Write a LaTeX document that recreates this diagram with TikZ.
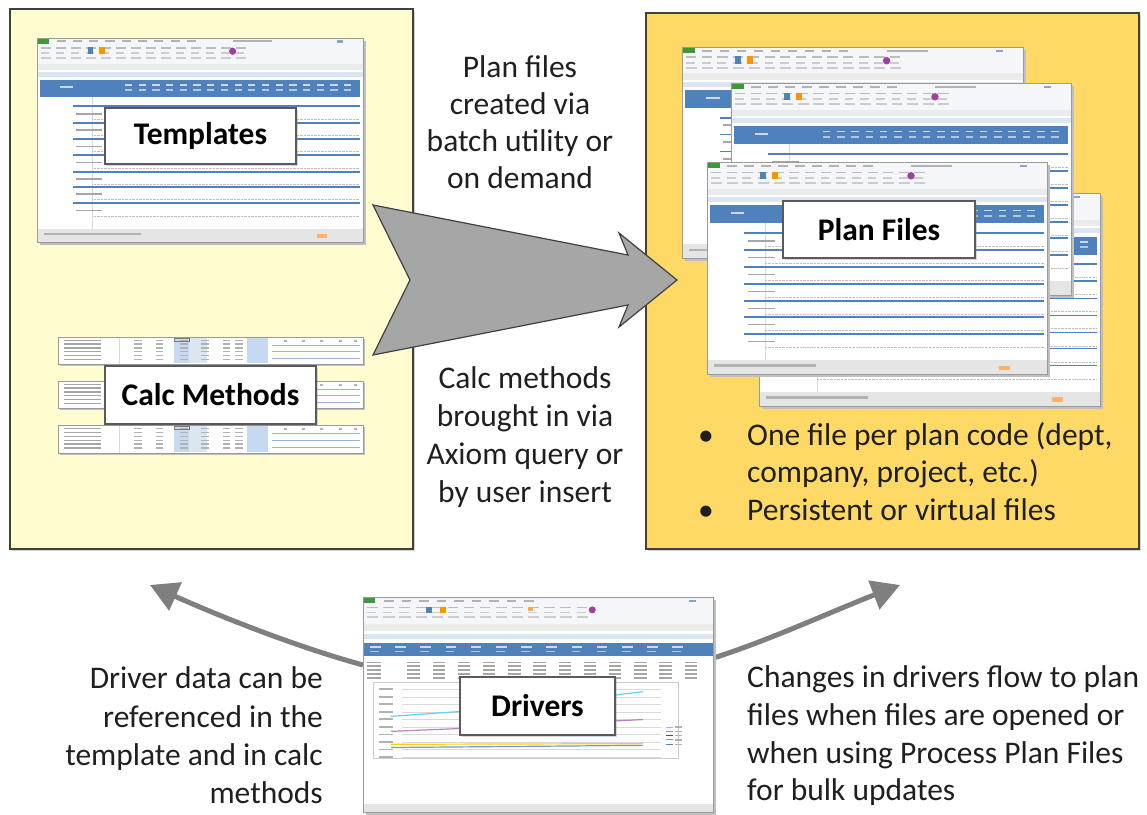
\documentclass[tikz,border=0pt]{standalone}
\usepackage{fontspec}
\setmainfont{Carlito}
\usetikzlibrary{arrows.meta,calc,shadows}

\definecolor{lefty}{HTML}{FFFDD0}
\definecolor{righty}{HTML}{FFD966}
\definecolor{boxline}{HTML}{404040}
\definecolor{lblline}{HTML}{5A5A5A}
\definecolor{arrowgray}{HTML}{A6A6A6}
\definecolor{curvegray}{HTML}{7F7F7F}
\definecolor{hdrblue}{HTML}{4F81BD}
\definecolor{paleblue}{HTML}{DCE6F1}
\definecolor{cellblue}{HTML}{C5D9F1}
\definecolor{ribbonbg}{HTML}{F4F6FA}
\definecolor{sheetedge}{HTML}{9A9A9A}
\definecolor{filegreen}{HTML}{3A9A3A}
\definecolor{txt}{HTML}{1F1F1F}

\tikzset{
 panel/.style={draw=boxline, line width=1.6pt, inner sep=0pt, drop shadow={shadow xshift=2pt, shadow yshift=-2pt, opacity=0.35}},
 lbl/.style={draw=lblline, fill=white, line width=1.6pt, font=\fontsize{31.5}{37}\selectfont\bfseries, inner sep=0pt, text=black, drop shadow={shadow xshift=1.5pt, shadow yshift=-1.5pt, opacity=0.3}},
 note/.style={font=\fontsize{31.5}{37.5}\selectfont, text=txt, inner sep=0pt},
 curvearrow/.style={draw=curvegray, line width=5pt, -{Triangle[length=28pt,width=30pt]}},
 bigarrow/.style={fill=arrowgray, draw=boxline, line width=1.2pt, line join=miter},
 pics/sheet/.style n args={2}{code={
  \fill[black!25] (2.5,2.5) rectangle (#1+2.5,#2+2.5);
  \fill[white] (0,0) rectangle (#1,#2);
  \fill[ribbonbg] (0,0) rectangle (#1,0.155*#2);
  \fill[filegreen] (0.004*#1,0.006*#2) rectangle (0.038*#1,0.03*#2);
  \foreach \i in {0,...,8}
    \fill[black!30] ({(0.06+0.05*\i)*#1},0.012*#2) rectangle ++(0.028*#1,0.01*#2);
  \fill[black!30] (0.6*#1,0.012*#2) rectangle ++(0.12*#1,0.01*#2);
  \fill[hdrblue!70] (0.92*#1,0.012*#2) rectangle ++(0.02*#1,0.012*#2);
  \foreach \i in {0,...,13}{
    \fill[black!26] ({(0.012+0.046*\i)*#1},0.045*#2) rectangle ++(0.03*#1,0.009*#2);
    \fill[black!20] ({(0.012+0.046*\i)*#1},0.07*#2) rectangle ++(0.026*#1,0.009*#2);
    \fill[black!20] ({(0.012+0.046*\i)*#1},0.095*#2) rectangle ++(0.032*#1,0.009*#2);
  }
  \fill[orange!85!yellow] (0.19*#1,0.045*#2) rectangle ++(0.018*#1,0.035*#2);
  \fill[hdrblue] (0.155*#1,0.045*#2) rectangle ++(0.018*#1,0.035*#2);
  \fill[violet!75] (0.6*#1,0.065*#2) circle (0.011*#1);
  \fill[black!8] (0,0.125*#2) rectangle (#1,0.155*#2);
  \fill[paleblue] (0,0.165*#2) rectangle (#1,0.19*#2);
  \fill[hdrblue] (0.01*#1,0.205*#2) rectangle (0.99*#1,0.29*#2);
  \foreach \i in {0,...,16}{
     \fill[white!70!hdrblue] ({(0.27+0.042*\i)*#1},0.225*#2) rectangle ++(0.022*#1,0.008*#2);
     \fill[white!55!hdrblue] ({(0.27+0.042*\i)*#1},0.25*#2) rectangle ++(0.022*#1,0.008*#2);
  }
  \fill[white!70!hdrblue] (0.07*#1,0.235*#2) rectangle ++(0.04*#1,0.01*#2);
  \draw[black!15] (0.17*#1,0.29*#2) -- (0.17*#1,0.935*#2);
  \foreach \r in {0.335,0.415,0.495,0.575,0.655,0.73,0.81}{
    \draw[hdrblue, line width=1.8pt] (0.11*#1,\r*#2) -- (0.99*#1,\r*#2);
    \fill[black!35] (0.12*#1,{(\r+0.032)*#2}) rectangle ++(0.08*#1,0.008*#2);
    \draw[black!25, densely dotted] (0.17*#1,{(\r+0.062)*#2}) -- (0.99*#1,{(\r+0.062)*#2});
  }
  \fill[black!10] (0,0.935*#2) rectangle (#1,#2);
  \fill[black!30] (0.02*#1,0.955*#2) rectangle ++(0.3*#1,0.012*#2);
  \fill[orange!60] (0.86*#1,0.96*#2) rectangle ++(0.03*#1,0.02*#2);
  \draw[sheetedge, line width=1pt] (0,0) rectangle (#1,#2);
 }},
 pics/strip/.style n args={2}{code={
  \fill[black!25] (2,2) rectangle (#1+2,#2+2);
  \fill[white] (0,0) rectangle (#1,#2);
  \fill[cellblue] (0.38*#1,0.05*#2) rectangle (0.43*#1,0.95*#2);
  \fill[paleblue] (0.43*#1,0.05*#2) rectangle (0.49*#1,0.95*#2);
  \fill[cellblue] (0.62*#1,0.05*#2) rectangle (0.69*#1,0.95*#2);
  \draw[boxline!70, line width=0.8pt] (0.38*#1,0.04*#2) rectangle (0.43*#1,0.16*#2);
  \foreach \k in {0,...,5}{
    \fill[black!35] (0.02*#1,{(0.1+0.14*\k)*#2}) rectangle ++(0.12*#1,0.05*#2);
    \foreach \cc in {0.25,0.32,0.40,0.47,0.54,0.58}
      \fill[black!30] (\cc*#1,{(0.1+0.14*\k)*#2}) rectangle ++(0.025*#1,0.05*#2);
  }
  \foreach \r in {0.3,0.55,0.8}
    \draw[hdrblue!60, line width=1.2pt] (0.7*#1,\r*#2) -- (0.99*#1,\r*#2);
  \foreach \cc in {0.74,0.8,0.86,0.92,0.97}
    \fill[black!30] (\cc*#1,0.12*#2) rectangle ++(0.01*#1,0.06*#2);
  \draw[black!15] (0.2*#1,0) -- (0.2*#1,#2);
  \draw[sheetedge, line width=1pt] (0,0) rectangle (#1,#2);
 }},
 pics/drvsheet/.style n args={2}{code={
  \fill[black!25] (2.5,2.5) rectangle (#1+2.5,#2+2.5);
  \fill[white] (0,0) rectangle (#1,#2);
  \fill[ribbonbg] (0,0) rectangle (#1,0.16*#2);
  \fill[filegreen] (0.004*#1,0.006*#2) rectangle (0.035*#1,0.028*#2);
  \foreach \i in {0,...,8}
    \fill[black!30] ({(0.06+0.05*\i)*#1},0.012*#2) rectangle ++(0.028*#1,0.009*#2);
  \fill[hdrblue!70] (0.93*#1,0.012*#2) rectangle ++(0.02*#1,0.012*#2);
  \foreach \i in {0,...,13}{
    \fill[black!26] ({(0.012+0.046*\i)*#1},0.045*#2) rectangle ++(0.03*#1,0.008*#2);
    \fill[black!20] ({(0.012+0.046*\i)*#1},0.068*#2) rectangle ++(0.026*#1,0.008*#2);
    \fill[black!20] ({(0.012+0.046*\i)*#1},0.09*#2) rectangle ++(0.032*#1,0.008*#2);
  }
  \fill[orange!85!yellow] (0.22*#1,0.045*#2) rectangle ++(0.018*#1,0.03*#2);
  \fill[hdrblue] (0.18*#1,0.045*#2) rectangle ++(0.018*#1,0.03*#2);
  \fill[orange!70] (0.47*#1,0.045*#2) rectangle ++(0.015*#1,0.02*#2);
  \fill[violet!75] (0.655*#1,0.06*#2) circle (0.01*#1);
  \fill[black!8] (0,0.125*#2) rectangle (#1,0.16*#2);
  \fill[paleblue] (0,0.17*#2) rectangle (#1,0.195*#2);
  \fill[hdrblue] (0,0.215*#2) rectangle (#1,0.275*#2);
  \foreach \i in {0,...,12}{
     \fill[white!70!hdrblue] ({(0.02+0.072*\i)*#1},0.228*#2) rectangle ++(0.03*#1,0.008*#2);
     \fill[white!55!hdrblue] ({(0.02+0.072*\i)*#1},0.25*#2) rectangle ++(0.025*#1,0.008*#2);
  }
  \foreach \k in {0,...,4}{
    \fill[black!35] (0.01*#1,{(0.3+0.018*\k)*#2}) rectangle ++(0.04*#1,0.008*#2);
    \foreach \i in {1,...,12}
      \fill[black!35] ({(0.055+0.072*\i)*#1},{(0.3+0.018*\k)*#2}) rectangle ++(0.035*#1,0.008*#2);
  }
  \draw[black!20] (0.03*#1,0.395*#2) rectangle (0.9*#1,0.75*#2);
  \foreach \k in {0,...,9}{
    \draw[black!15] (0.11*#1,{(0.43+0.035*\k)*#2}) -- (0.85*#1,{(0.43+0.035*\k)*#2});
    \fill[black!30] (0.045*#1,{(0.425+0.035*\k)*#2}) rectangle ++(0.04*#1,0.008*#2);
  }
  \draw[cyan!60, line width=1.2pt] (0.08*#1,0.555*#2) -- (0.3*#1,0.53*#2) -- (0.55*#1,0.49*#2) -- (0.8*#1,0.44*#2);
  \draw[violet!50, line width=1.2pt] (0.08*#1,0.625*#2) -- (0.3*#1,0.61*#2) -- (0.55*#1,0.59*#2) -- (0.8*#1,0.57*#2);
  \draw[yellow!70!orange, line width=1.2pt] (0.08*#1,0.685*#2) -- (0.8*#1,0.682*#2);
  \draw[hdrblue!80, line width=1.2pt] (0.08*#1,0.70*#2) -- (0.8*#1,0.69*#2);
  \foreach \k/\col in {0/cyan!60,1/violet!50,2/green!50!black,3/red!60,4/hdrblue}{
    \draw[\col, line width=1pt] (0.865*#1,{(0.605+0.02*\k)*#2}) -- ++(0.02*#1,0);
    \fill[black!30] (0.89*#1,{(0.602+0.02*\k)*#2}) rectangle ++(0.02*#1,0.006*#2);
  }
  \fill[black!10] (0,0.965*#2) rectangle (#1,#2);
  \draw[sheetedge, line width=1pt] (0,0) rectangle (#1,#2);
 }},
}

\begin{document}
\begin{tikzpicture}[x=1pt,y=-1pt]
\useasboundingbox (0,0) rectangle (1147,814);

% panels
\node[panel, fill=lefty, minimum width=403pt, minimum height=540pt, anchor=north west] (tplpanel) at (9,8) {};
\node[panel, fill=righty, minimum width=493pt, minimum height=536pt, anchor=north west] (planpanel) at (645,12) {};

% templates side
\pic at (37,38) {sheet={326}{204}};
\pic at (58,337) {strip={305}{27}};
\pic at (58,381) {strip={305}{27}};
\pic at (58,425) {strip={305}{28}};
\node[lbl, minimum width=191pt, minimum height=56pt] (tpl) at (200.5,136) {Templates};
\node[lbl, minimum width=211pt, minimum height=58pt] (calc) at (210.5,395) {Calc Methods};

% plan files side
\pic at (759,193) {sheet={341}{213}};
\pic at (682,47) {sheet={341}{211}};
\pic at (731,83) {sheet={340}{212}};
\pic at (707,162) {sheet={340}{212}};
\node[lbl, minimum width=192pt, minimum height=57pt] (plan) at (879,229.5) {Plan Files};

% big arrow
\path[bigarrow] (373,205) -- (628,255) -- (619,233) -- (677,280) -- (619,327) -- (628,305) -- (373,355) -- (410,280) -- cycle;

% middle notes
\node[note, anchor=base] (t1) at (520,77) {Plan files};
\node[note, anchor=base] (t2) at (520,114) {created via};
\node[note, anchor=base] (t3) at (520,151) {batch utility or};
\node[note, anchor=base] (t4) at (520,188) {on demand};
\node[note, anchor=base] (m1) at (525,388) {Calc methods};
\node[note, anchor=base] (m2) at (525,426) {brought in via};
\node[note, anchor=base] (m3) at (525,464) {Axiom query or};
\node[note, anchor=base] (m4) at (525,502) {by user insert};

% bullets
\node[note, anchor=base] (b1) at (706,445) {•};
\node[note, anchor=base west] (bt1) at (747,445) {One file per plan code (dept,};
\node[note, anchor=base west] (bt1b) at (747,482) {company, project, etc.)};
\node[note, anchor=base] (b2) at (706,520) {•};
\node[note, anchor=base west] (bt2) at (747,520) {Persistent or virtual files};

% drivers
\node[minimum width=350pt, minimum height=215pt, anchor=north west, inner sep=0pt] (drv) at (363,597) {};
\coordinate (tplin) at (150,585);
\coordinate (planin) at (900,585);
\draw[curvearrow] ($(drv.north west)+(0,68)$) .. controls (290,645) and (210,612) .. (tplin);
\draw[curvearrow] ($(drv.north east)+(0,61)$) .. controls (770,640) and (835,610) .. (planin);
\pic at (363,597) {drvsheet={350}{215}};
\node[lbl, minimum width=155pt, minimum height=58pt] (drvlbl) at (537.5,706) {Drivers};

% bottom notes
\node[note, anchor=base east] (l1) at (323,688) {Driver data can be};
\node[note, anchor=base east] (l2) at (323,727) {referenced in the};
\node[note, anchor=base east] (l3) at (323,765) {template and in calc};
\node[note, anchor=base east] (l4) at (323,803) {methods};
\node[note, anchor=base west] (r1) at (747,687) {Changes in drivers flow to plan};
\node[note, anchor=base west] (r2) at (747,725) {files when files are opened or};
\node[note, anchor=base west] (r3) at (747,763) {when using Process Plan Files};
\node[note, anchor=base west] (r4) at (747,800) {for bulk updates};
\end{tikzpicture}
\end{document}
